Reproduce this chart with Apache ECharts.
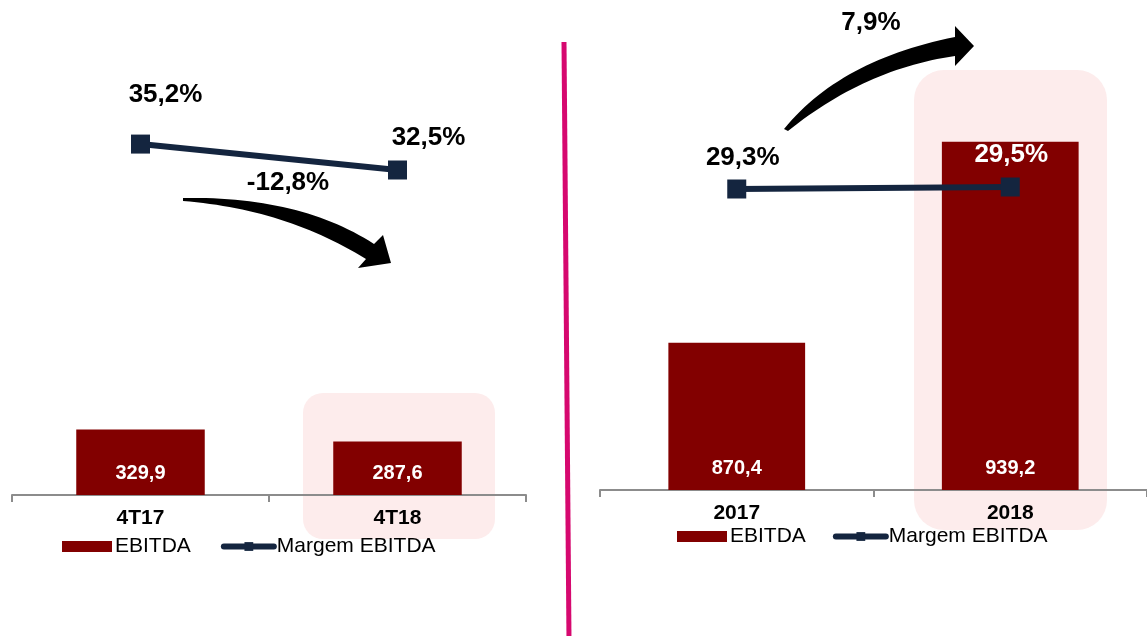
<!DOCTYPE html>
<html>
<head>
<meta charset="utf-8">
<style>
html,body{margin:0;padding:0;background:#fff;}
#chart{width:1147px;height:636px;}
</style>
<script src="https://cdn.jsdelivr.net/npm/echarts@6/dist/echarts.min.js"></script>
</head>
<body>
<div id="chart"></div>
<script>
// ---- data ----
const leftCategories = ['4T17', '4T18'];
const leftEbitda = [329.9, 287.6];
const leftMargin = [35.2, 32.5];
const leftChange = '-12,8%';

const rightCategories = ['2017', '2018'];
const rightEbitda = [870.4, 939.2];
const rightMargin = [29.3, 29.5];
const rightChange = '7,9%';

// ---- styles ----
const FONT = "'Liberation Sans', Arial, sans-serif";
const BAR = '#820000';
const LINE = '#14253F';
const PINK = '#FDECEC';
const fmt = v => v.toFixed(1).replace('.', ',');

function quad(p0, c, p1, n) {
  const pts = [];
  for (let i = 0; i <= n; i++) {
    const t = i / n, u = 1 - t;
    pts.push([u*u*p0[0] + 2*u*t*c[0] + t*t*p1[0], u*u*p0[1] + 2*u*t*c[1] + t*t*p1[1]]);
  }
  return pts;
}
const leftArrow = [].concat(
  quad([183,198],[300,196],[374,244],30),
  [[383,235],[391,263],[358,268]],
  quad([366,259],[285,209],[183,201],30)
);
const rightArrow = [].concat(
  quad([784,129],[840,60],[955,37],30),
  [[955,26],[974,46],[955,66]],
  quad([955,56],[865,69],[788,131],30)
);

const leftLabelOffsets = [[25,-49],[31,-32]];
const rightLabelOffsets = [[6,-31],[1,-32]];
const rightLabelColors = ['#000','#fff'];

const catAxis = (gi, data) => ({
  type: 'category', gridIndex: gi, data: data, boundaryGap: true,
  axisLine: {show: true, lineStyle: {color: '#8c8c8c', width: 2}},
  axisTick: {show: true, length: 7, lineStyle: {color: '#8c8c8c', width: 2}},
  axisLabel: {color: '#000', fontFamily: FONT, fontWeight: 'bold', fontSize: 21, margin: 13}
});
const hiddenCat = (gi, data) => ({type: 'category', gridIndex: gi, data: data, boundaryGap: true, show: false});
const hiddenVal = (gi, min, max) => ({type: 'value', gridIndex: gi, min: min, max: max, show: false, splitLine: {show: false}});

const barLabel = {
  show: true, position: 'insideBottom', distance: 12, color: '#fff',
  fontFamily: FONT, fontWeight: 'bold', fontSize: 20,
  formatter: p => fmt(p.value)
};

const legendBase = {
  padding: 0, itemWidth: 50, itemHeight: 11,
  textStyle: {fontFamily: FONT, fontSize: 21, color: '#000', padding: [0,0,0,-2]},
  lineStyle: {width: 6, cap: 'round'},
  data: [{name: 'EBITDA', icon: 'rect'}, {name: 'Margem EBITDA'}]
};

const option = {
  animation: false,
  backgroundColor: '#fff',
  grid: [
    {left: 12, right: 621, top: 39, bottom: 141},
    {left: 12, right: 621, top: 98, bottom: 442},
    {left: 600, right: -3, top: 81, bottom: 146},
    {left: 600, right: -3, top: 172, bottom: 434}
  ],
  xAxis: [
    catAxis(0, leftCategories),
    hiddenCat(1, leftCategories),
    catAxis(2, rightCategories),
    hiddenCat(3, rightCategories)
  ],
  yAxis: [
    hiddenVal(0, 100, 1700),
    hiddenVal(1, 30, 40),
    hiddenVal(2, 820, 960),
    hiddenVal(3, 28, 31)
  ],
  legend: [
    Object.assign({}, legendBase, {left: 62, top: 536, itemGap: 30}),
    Object.assign({}, legendBase, {left: 677, top: 526, itemGap: 27})
  ],
  graphic: [
    {type: 'rect', z: 0, shape: {x: 303, y: 393, width: 192, height: 146, r: 20}, style: {fill: PINK}},
    {type: 'rect', z: 0, shape: {x: 914, y: 70, width: 193, height: 460, r: 30}, style: {fill: PINK}},
    {type: 'polygon', z: 100, shape: {points: leftArrow}, style: {fill: '#000'}},
    {type: 'polygon', z: 100, shape: {points: rightArrow}, style: {fill: '#000'}},
    {type: 'text', z: 100, x: 288, y: 183, style: {text: leftChange, fill: '#000', font: "bold 26px " + FONT, textAlign: 'center', textVerticalAlign: 'middle'}},
    {type: 'text', z: 100, x: 871, y: 23, style: {text: rightChange, fill: '#000', font: "bold 26px " + FONT, textAlign: 'center', textVerticalAlign: 'middle'}},
    {type: 'line', z: 100, shape: {x1: 564, y1: 42, x2: 569, y2: 640}, style: {stroke: '#D6086F', lineWidth: 5}}
  ],
  series: [
    {name: 'EBITDA', type: 'bar', xAxisIndex: 0, yAxisIndex: 0, barWidth: '50%',
     itemStyle: {color: BAR}, label: barLabel, data: leftEbitda},
    {name: 'Margem EBITDA', type: 'line', xAxisIndex: 1, yAxisIndex: 1,
     symbol: 'rect', symbolSize: 19, lineStyle: {color: LINE, width: 6}, itemStyle: {color: LINE},
     data: leftMargin.map((v, i) => ({value: v, label: {
       show: true, position: 'inside', offset: leftLabelOffsets[i], color: '#000',
       fontFamily: FONT, fontWeight: 'bold', fontSize: 26, formatter: p => fmt(p.value) + '%'}}))},
    {name: 'EBITDA', type: 'bar', xAxisIndex: 2, yAxisIndex: 2, barWidth: '50%',
     itemStyle: {color: BAR}, label: barLabel, data: rightEbitda},
    {name: 'Margem EBITDA', type: 'line', xAxisIndex: 3, yAxisIndex: 3, z: 5,
     symbol: 'rect', symbolSize: 19, lineStyle: {color: LINE, width: 6}, itemStyle: {color: LINE},
     data: rightMargin.map((v, i) => ({value: v, label: {
       show: true, position: 'inside', offset: rightLabelOffsets[i], color: rightLabelColors[i],
       fontFamily: FONT, fontWeight: 'bold', fontSize: 26, formatter: p => fmt(p.value) + '%'}}))}
  ]
};

const chart = echarts.init(document.getElementById('chart'), null, {renderer: 'canvas'});
chart.setOption(option);
</script>
</body>
</html>
